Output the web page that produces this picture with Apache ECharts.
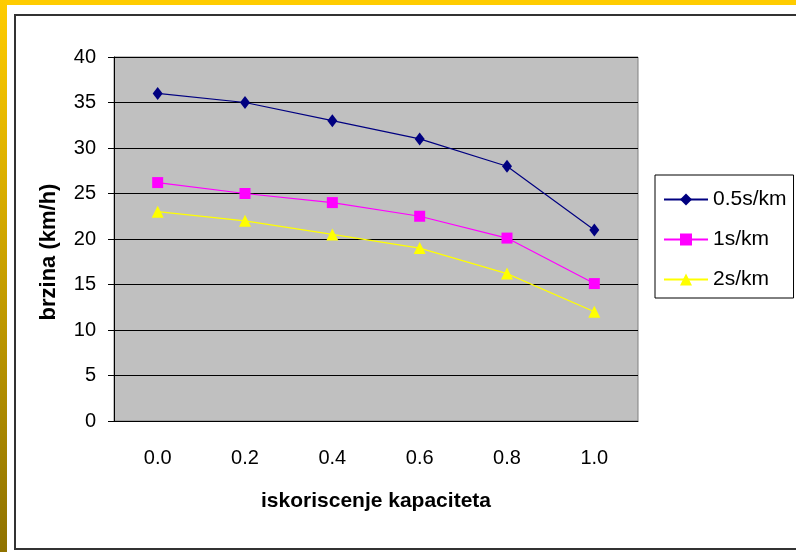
<!DOCTYPE html>
<html><head><meta charset="utf-8">
<script src="https://cdn.jsdelivr.net/npm/echarts@6/dist/echarts.min.js"></script>
<style>html,body{margin:0;padding:0;background:#fff}#c{width:796px;height:552px}</style>
</head><body><div id="c"></div>
<script>
var categories = ['0.0', '0.2', '0.4', '0.6', '0.8', '1.0'];
var s05 = [36, 35, 33, 31, 28, 21];
var s1 = [26.2, 25, 24, 22.5, 20.1, 15.1];
var s2 = [23, 22, 20.5, 19, 16.2, 12];
var seriesNames = ['0.5s/km', '1s/km', '2s/km'];
var yTicks = {min: 0, max: 40, interval: 5};
var yName = 'brzina (km/h)';
var xName = 'iskoriscenje kapaciteta';

var font = "'Liberation Sans', Arial, sans-serif";
var chart = echarts.init(document.getElementById('c'), null, {renderer: 'canvas'});
chart.setOption({
  animation: false,
  backgroundColor: '#ffffff',
  graphic: [
    {type: 'rect', shape: {x: 0, y: 0, width: 796, height: 5}, style: {fill: '#FFCC00'}, z: 100},
    {type: 'rect', shape: {x: 0, y: 0, width: 7, height: 552}, style: {fill: new echarts.graphic.LinearGradient(0, 0, 0, 1, [{offset: 0, color: '#FFCC00'}, {offset: 1, color: '#8F7200'}])}, z: 100},
    {type: 'rect', shape: {x: 15, y: 15, width: 800, height: 534}, style: {fill: 'none', stroke: '#333333', lineWidth: 2}, z: 100},
    {type: 'text', x: 49, y: 252, rotation: Math.PI / 2, style: {text: yName, font: 'bold 22px ' + font, fill: '#000', align: 'center', verticalAlign: 'middle'}, z: 100}
  ],
  grid: {left: 114, top: 57, right: 158, bottom: 131, show: true, backgroundColor: '#C0C0C0', borderColor: '#808080', borderWidth: 1},
  legend: {
    orient: 'vertical', left: 655, top: 175,
    padding: [14, 7, 8, 8], itemGap: 19, itemWidth: 44, itemHeight: 15,
    borderColor: '#000', borderWidth: 1, backgroundColor: '#fff',
    textStyle: {fontFamily: font, fontSize: 21, color: '#000'},
    data: seriesNames
  },
  xAxis: {
    type: 'category', data: categories, boundaryGap: true,
    axisLine: {lineStyle: {color: '#000', width: 1}},
    axisTick: {length: 6, lineStyle: {color: '#000'}},
    axisLabel: {margin: 27, fontFamily: font, fontSize: 20, color: '#000'},
    name: xName, nameLocation: 'middle', nameGap: 70,
    nameTextStyle: {fontFamily: font, fontSize: 21, fontWeight: 'bold', color: '#000'}
  },
  yAxis: {
    type: 'value', min: yTicks.min, max: yTicks.max, interval: yTicks.interval,
    axisLine: {show: true, lineStyle: {color: '#000', width: 1}},
    axisTick: {show: true, length: 6, lineStyle: {color: '#000'}},
    splitLine: {lineStyle: {color: '#000', width: 1}},
    axisLabel: {margin: 18, fontFamily: font, fontSize: 20, color: '#000'}
  },
  series: [
    {name: seriesNames[0], type: 'line', data: s05, symbol: 'diamond', symbolSize: [10, 13], color: '#000080', lineStyle: {width: 1.2, color: '#000080'}, itemStyle: {color: '#000080'}},
    {name: seriesNames[1], type: 'line', data: s1, symbol: 'rect', symbolSize: 11, color: '#FF00FF', lineStyle: {width: 1.2, color: '#FF00FF'}, itemStyle: {color: '#FF00FF'}},
    {name: seriesNames[2], type: 'line', data: s2, symbol: 'triangle', symbolSize: 12, color: '#FFFF00', lineStyle: {width: 1.2, color: '#FFFF00'}, itemStyle: {color: '#FFFF00'}}
  ]
});
</script></body></html>
